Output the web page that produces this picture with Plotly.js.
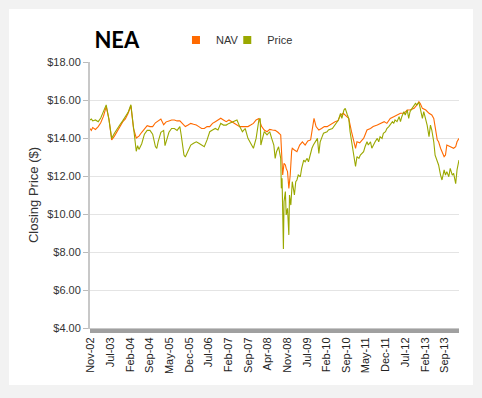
<!DOCTYPE html>
<html>
<head>
<meta charset="utf-8">
<script src="https://cdn.plot.ly/plotly-3.0.1.min.js"></script>
<style>
html,body{margin:0;padding:0;background:#f2f2f2;width:482px;height:398px;overflow:hidden;}
#chart{position:absolute;left:9px;top:9px;width:464px;height:376px;background:#fff;}
</style>
</head>
<body>
<div id="chart"></div>
<script>
var chartTitle = 'NEA';
var seriesNames = ['NAV', 'Price'];

var navDates = ['2002-11-01','2002-11-16','2002-12-01','2003-01-01','2003-02-01','2003-03-01','2003-04-01','2003-05-01','2003-06-01','2003-07-01','2003-08-01','2003-09-01','2003-10-01','2003-11-01','2003-12-01','2004-01-01','2004-02-01','2004-03-01','2004-04-01','2004-05-01','2004-06-01','2004-07-01','2004-08-01','2004-09-01','2004-10-01','2004-11-01','2004-12-01','2005-01-01','2005-02-01','2005-03-01','2005-04-01','2005-05-01','2005-06-01','2005-07-01','2005-08-01','2005-09-01','2005-10-01','2005-11-01','2005-12-01','2006-01-01','2006-02-01','2006-03-01','2006-04-01','2006-05-01','2006-06-01','2006-07-01','2006-08-01','2006-09-01','2006-10-01','2006-11-01','2006-12-01','2007-01-01','2007-02-01','2007-03-01','2007-04-01','2007-05-01','2007-06-01','2007-07-01','2007-08-01','2007-09-01','2007-10-01','2007-11-01','2007-12-01','2008-01-01','2008-02-01','2008-03-01','2008-04-01','2008-05-01','2008-06-01','2008-07-01','2008-08-01','2008-09-01','2008-09-16','2008-09-23','2008-10-08','2008-10-23','2008-11-01','2008-11-16','2008-12-01','2008-12-16','2009-01-01','2009-01-08','2009-02-01','2009-03-01','2009-04-01','2009-05-01','2009-06-01','2009-07-01','2009-08-01','2009-09-01','2009-09-08','2009-10-01','2009-11-01','2009-12-01','2010-01-01','2010-02-01','2010-03-01','2010-04-01','2010-05-01','2010-06-01','2010-07-01','2010-08-01','2010-09-01','2010-10-01','2010-11-01','2010-11-16','2010-12-01','2010-12-16','2011-01-01','2011-02-01','2011-03-01','2011-03-16','2011-04-01','2011-04-23','2011-06-01','2011-07-01','2011-08-16','2011-09-16','2011-11-01','2011-12-01','2012-01-08','2012-02-16','2012-03-23','2012-05-01','2012-06-08','2012-07-16','2012-08-16','2012-10-01','2012-11-01','2012-11-23','2012-12-08','2013-01-01','2013-02-08','2013-03-16','2013-04-16','2013-05-08','2013-05-23','2013-06-16','2013-07-01','2013-07-23','2013-09-01','2013-09-16','2013-10-01','2013-11-08','2013-12-16','2014-01-08','2014-01-23','2014-02-14'];
var navValues = [14.5,14.4,14.55,14.45,14.6,14.8,15.15,15.65,15.0,13.9,14.1,14.35,14.6,14.85,15.0,15.3,15.7,14.5,14.0,14.1,14.3,14.5,14.65,14.6,14.6,14.8,14.9,15.0,14.7,14.85,14.9,14.95,14.95,14.9,14.9,14.72,14.6,14.68,14.77,14.72,14.68,14.6,14.5,14.5,14.6,14.6,14.77,14.86,14.95,15.04,14.95,14.86,14.95,14.86,14.77,14.68,14.6,14.6,14.6,14.6,14.68,14.77,14.95,15.03,14.6,14.42,14.33,14.45,14.42,14.4,14.3,14.16,12.75,12.05,12.67,12.58,12.4,12.23,11.35,12.05,13.3,13.46,13.37,13.28,13.63,13.8,13.63,13.84,13.9,14.86,15.03,14.6,14.42,14.5,14.6,14.6,14.68,14.77,14.86,14.9,15.2,15.3,15.18,15.03,14.33,13.98,13.72,13.46,13.8,13.75,13.9,13.98,14.16,14.42,14.5,14.6,14.68,14.77,14.86,14.77,15.03,15.12,15.21,15.3,15.3,15.47,15.47,15.56,15.74,15.91,15.82,15.56,15.47,15.3,15.21,15.03,14.6,13.9,13.8,13.46,13.02,13.1,13.63,13.54,13.46,13.54,13.8,13.98];

var priceDates = ['2002-11-01','2002-11-16','2002-12-01','2003-01-01','2003-02-01','2003-03-01','2003-04-01','2003-05-01','2003-06-01','2003-07-01','2003-08-01','2003-09-01','2003-10-01','2003-11-01','2003-12-01','2004-01-01','2004-02-01','2004-03-01','2004-03-16','2004-04-01','2004-04-16','2004-05-01','2004-06-01','2004-07-01','2004-08-01','2004-09-01','2004-10-01','2004-11-01','2004-11-16','2004-12-01','2005-01-01','2005-02-01','2005-02-16','2005-03-01','2005-04-01','2005-05-01','2005-06-01','2005-07-01','2005-08-01','2005-08-16','2005-09-01','2005-09-16','2005-10-01','2005-11-01','2005-12-01','2006-01-01','2006-02-01','2006-03-01','2006-04-01','2006-05-01','2006-06-01','2006-07-01','2006-08-01','2006-09-01','2006-10-01','2006-11-01','2006-12-01','2007-01-01','2007-02-01','2007-03-01','2007-04-01','2007-05-01','2007-06-01','2007-07-01','2007-08-01','2007-09-01','2007-10-01','2007-11-01','2007-12-01','2008-01-01','2008-01-16','2008-01-23','2008-02-01','2008-03-01','2008-04-01','2008-05-01','2008-05-23','2008-06-16','2008-07-01','2008-07-16','2008-08-08','2008-09-01','2008-09-08','2008-09-16','2008-10-01','2008-10-08','2008-10-23','2008-11-01','2008-11-16','2008-12-01','2008-12-08','2008-12-23','2009-01-08','2009-01-23','2009-02-01','2009-02-16','2009-03-01','2009-03-16','2009-04-08','2009-04-23','2009-05-16','2009-06-01','2009-06-23','2009-07-08','2009-08-01','2009-08-16','2009-09-01','2009-10-16','2009-11-01','2009-11-16','2009-12-08','2009-12-23','2010-02-01','2010-02-16','2010-04-01','2010-05-01','2010-06-08','2010-07-01','2010-07-16','2010-08-08','2010-08-23','2010-09-16','2010-10-01','2010-10-16','2010-11-08','2010-11-23','2010-12-16','2011-01-01','2011-01-23','2011-02-08','2011-03-01','2011-03-16','2011-04-01','2011-04-23','2011-05-08','2011-06-01','2011-06-16','2011-07-08','2011-07-23','2011-08-16','2011-09-01','2011-09-16','2011-10-08','2011-10-23','2011-11-16','2011-12-01','2011-12-23','2012-02-01','2012-02-16','2012-03-01','2012-03-23','2012-04-16','2012-05-01','2012-05-16','2012-06-08','2012-06-23','2012-07-16','2012-08-01','2012-08-16','2012-09-08','2012-10-01','2012-10-16','2012-11-01','2012-11-23','2012-12-08','2013-01-01','2013-01-16','2013-02-08','2013-02-23','2013-03-16','2013-04-01','2013-04-16','2013-05-08','2013-05-23','2013-06-16','2013-07-01','2013-07-23','2013-08-08','2013-09-01','2013-09-16','2013-10-01','2013-10-23','2013-11-08','2013-12-01','2013-12-16','2014-01-08','2014-01-23','2014-02-14'];
var priceValues = [14.95,15.0,14.9,14.95,14.86,15.05,15.4,15.74,14.95,13.98,14.25,14.5,14.7,14.9,15.1,15.35,15.75,14.6,13.7,13.3,13.6,13.4,13.7,14.2,14.4,14.4,14.2,13.55,13.45,13.8,14.3,14.4,13.6,13.8,14.3,14.5,14.5,14.4,14.6,14.16,13.46,13.1,13.0,13.37,13.63,13.72,13.8,13.72,13.63,13.54,13.9,14.33,14.42,14.5,14.42,14.77,14.68,14.68,14.77,14.82,14.86,14.95,14.6,14.33,14.5,13.98,13.72,13.46,13.98,14.95,15.03,13.63,13.8,14.33,14.16,14.33,13.98,13.63,12.93,13.28,13.54,12.93,11.35,11.88,8.16,10.65,11.18,9.95,10.3,8.9,11.0,10.47,11.7,11.35,11.0,11.7,11.79,12.05,11.96,12.4,12.84,12.75,12.93,12.75,13.28,13.46,13.63,13.98,13.19,13.8,14.07,14.25,14.33,14.42,14.5,14.68,14.95,15.3,15.03,15.47,15.56,15.21,15.03,14.33,13.72,13.28,12.5,13.02,12.93,13.1,13.19,13.28,13.54,13.8,13.63,13.8,13.46,13.72,13.8,13.98,13.8,14.07,13.98,14.25,14.33,14.5,14.6,14.86,14.77,14.95,14.86,15.12,14.86,15.12,15.39,15.21,15.47,15.03,15.39,15.56,15.74,15.82,15.74,15.88,15.56,15.03,15.39,15.03,14.68,14.07,14.68,14.42,13.8,13.1,12.75,12.58,12.05,11.79,12.32,12.05,12.23,11.96,12.4,12.05,12.14,11.6,12.32,12.84];

var tickDates = ['2002-11-09','2003-06-15','2004-01-22','2004-08-29','2005-04-05','2005-11-12','2006-06-18','2007-01-25','2007-09-02','2008-04-08','2008-11-15','2009-06-21','2010-01-28','2010-09-05','2011-04-11','2011-11-18','2012-06-24','2013-02-01','2013-09-08'];
var tickLabels = ['Nov-02','Jul-03','Feb-04','Sep-04','May-05','Dec-05','Jul-06','Feb-07','Sep-07','Apr-08','Nov-08','Jul-09','Feb-10','Sep-10','May-11','Dec-11','Jul-12','Feb-13','Sep-13'];

var navColor = '#ff6a00';
var priceColor = '#9aa800';
var font = 'Liberation Sans, Arial, sans-serif';

var traces = [
  {type:'scatter', mode:'lines', x:navDates, y:navValues, name:seriesNames[0], showlegend:false,
   line:{color:navColor, width:1.1}, hoverinfo:'skip'},
  {type:'scatter', mode:'lines', x:priceDates, y:priceValues, name:seriesNames[1], showlegend:false,
   line:{color:priceColor, width:1.1}, hoverinfo:'skip'},
  {type:'scatter', mode:'markers', x:[null], y:[null], name:seriesNames[0], legend:'legend',
   marker:{symbol:'square', size:8, color:navColor}},
  {type:'scatter', mode:'markers', x:[null], y:[null], name:seriesNames[1], legend:'legend2',
   marker:{symbol:'square', size:8, color:priceColor}}
];

var legendFont = {family:font, size:11, color:'#333'};
var layout = {
  width:464, height:376,
  margin:{l:81, r:14, t:53, b:57},
  paper_bgcolor:'#ffffff', plot_bgcolor:'#ffffff',
  font:{family:font, size:11, color:'#333'},
  title:{text:'<b>'+chartTitle+'</b>', font:{family:'Lato, Open Sans, sans-serif', size:22, color:'#000'},
    xref:'paper', x:0.012, xanchor:'left', yref:'container', y:0.918, yanchor:'middle'},
  showlegend:true,
  legend:{orientation:'h', x:0.233, xanchor:'left', y:1.083, yanchor:'middle',
    font:legendFont, bgcolor:'rgba(0,0,0,0)', itemwidth:30},
  legend2:{orientation:'h', x:0.372, xanchor:'left', y:1.083, yanchor:'middle',
    font:legendFont, bgcolor:'rgba(0,0,0,0)', itemwidth:30},
  xaxis:{type:'date', range:['2002-11-01','2014-02-14'], tickmode:'array', tickvals:tickDates, ticktext:tickLabels,
    tickangle:-90, ticks:'outside', ticklen:4, tickcolor:'#a0a0a0', tickwidth:1,
    minor:{dtick:604800000, ticks:'outside', ticklen:4, tickcolor:'#a0a0a0', tickwidth:1, showgrid:false},
    showgrid:false, showline:true, linecolor:'#c8c8c8', linewidth:1, zeroline:false,
    tickfont:{family:font, size:11, color:'#222'}, fixedrange:true},
  yaxis:{range:[4,18], dtick:2, tick0:0, tickprefix:'$', tickformat:'.2f',
    ticks:'outside', ticklen:5, tickcolor:'#bbb', showgrid:true, gridcolor:'#e4e4e4', gridwidth:1,
    showline:true, linecolor:'#c8c8c8', linewidth:2, zeroline:false,
    tickfont:{family:font, size:11, color:'#333'},
    title:{text:'Closing Price ($)', font:{family:font, size:13, color:'#333'}, standoff:6}, fixedrange:true}
};

Plotly.newPlot('chart', traces, layout, {displayModeBar:false, staticPlot:true});
</script>
</body>
</html>
